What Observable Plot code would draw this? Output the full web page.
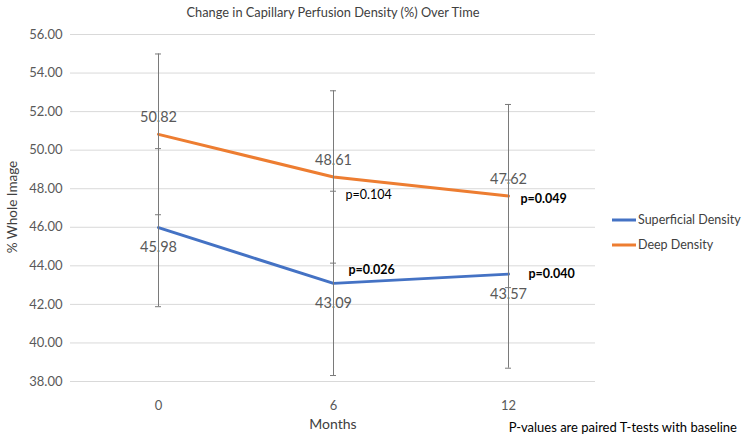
<!DOCTYPE html>
<html><head><meta charset="utf-8">
<script src="https://cdn.jsdelivr.net/npm/d3@7"></script>
<script src="https://cdn.jsdelivr.net/npm/@observablehq/plot@0.6"></script>
<style>body{margin:0;background:#fff}</style>
</head><body><div id="chart"></div>
<script>
const months = [0, 6, 12];
const seriesNames = ["Superficial Density", "Deep Density"];
const superficial = [45.98, 43.09, 43.57];
const superficialErr = [4.10, 4.78, 4.88];
const deep = [50.82, 48.61, 47.62];
const deepErr = [4.17, 4.47, 4.75];
const superficialP = ["", "p=0.026", "p=0.040"];
const deepP = ["", "p=0.104", "p=0.049"];
const superficialPBold = [false, true, true];
const deepPBold = [false, false, true];
const yTicks = [38, 40, 42, 44, 46, 48, 50, 52, 54, 56];
const titleText = "Change in Capillary Perfusion Density (%) Over Time";
const yLabel = "% Whole Image";
const xLabel = "Months";
const captionText = "P-values are paired T-tests with baseline";
const colors = ["#4472C4", "#ED7D31"];

const rows = [];
months.forEach((m, i) => {
  rows.push({series: seriesNames[0], month: m, v: superficial[i], e: superficialErr[i], p: superficialP[i], bold: superficialPBold[i], idx: i});
  rows.push({series: seriesNames[1], month: m, v: deep[i], e: deepErr[i], p: deepP[i], bold: deepPBold[i], idx: i});
});
const sup = rows.filter(d => d.series === seriesNames[0]);
const dp = rows.filter(d => d.series === seriesNames[1]);

// p-label offsets (layout only)
const pOffsets = {
  [seriesNames[0]]: [null, {dx: 15, dy: -13}, {dx: 20, dy: 0}],
  [seriesNames[1]]: [null, {dx: 12, dy: 18}, {dx: 12, dy: 3}]
};
const pMarks = rows.filter(d => d.p).map(d => {
  const o = pOffsets[d.series][d.idx];
  return Plot.text([d], {x: "month", y: "v", text: "p", textAnchor: "start", dx: o.dx, dy: o.dy,
    fill: "#000", fontSize: 12.5, fontWeight: d.bold ? "bold" : "normal"});
});

const svg = Plot.plot({
  width: 750, height: 439,
  marginLeft: 70, marginRight: 155, marginTop: 34, marginBottom: 58,
  style: {fontFamily: "Lato, sans-serif", fontSize: "13px", background: "#fff"},
  x: {type: "point", domain: months, padding: 0.5, label: null},
  y: {domain: [38, 56], label: null},
  color: {domain: seriesNames, range: colors},
  marks: [
    Plot.gridY(yTicks, {stroke: "#d9d9d9", strokeOpacity: 1}),
    Plot.axisY(yTicks, {tickSize: 0, tickPadding: 8, tickFormat: d => d.toFixed(2), fill: "#595959", fontSize: 13, label: null}),
    Plot.axisX(months, {tickSize: 0, tickPadding: 19, fill: "#595959", fontSize: 13, label: null}),
    Plot.line(rows, {x: "month", y: "v", z: "series", stroke: "series", strokeWidth: 3}),
    Plot.text(dp, {x: "month", y: "v", text: d => d.v.toFixed(2), dy: -17, fill: "#595959", fontSize: 14.5}),
    Plot.text(sup, {x: "month", y: "v", text: d => d.v.toFixed(2), dy: 20, fill: "#595959", fontSize: 14.5}),
    ...pMarks,
    Plot.ruleX(rows, {x: "month", y1: d => d.v - d.e, y2: d => d.v + d.e, stroke: "#7a7a7a", strokeWidth: 1}),
    Plot.ruleY(rows, {x1: "month", x2: "month", y: d => d.v - d.e, insetLeft: -3, insetRight: -3, stroke: "#7a7a7a", strokeWidth: 1}),
    Plot.ruleY(rows, {x1: "month", x2: "month", y: d => d.v + d.e, insetLeft: -3, insetRight: -3, stroke: "#7a7a7a", strokeWidth: 1})
  ]
});

const s = d3.select(svg);
s.append("text").attr("x", 333).attr("y", 17).attr("text-anchor", "middle")
  .attr("fill", "#404040").style("font-size", "12.8px").text(titleText);
s.append("text").attr("transform", "translate(17,207) rotate(-90)").attr("text-anchor", "middle")
  .attr("fill", "#404040").style("font-size", "13.5px").text(yLabel);
s.append("text").attr("x", 333).attr("y", 429).attr("text-anchor", "middle")
  .attr("fill", "#404040").style("font-size", "14px").text(xLabel);
s.append("text").attr("x", 737).attr("y", 432).attr("text-anchor", "end")
  .attr("fill", "#000").style("font-size", "13px").text(captionText);
const lg = s.append("g");
seriesNames.forEach((n, i) => {
  const y = 220 + i * 25;
  lg.append("line").attr("x1", 612).attr("x2", 636).attr("y1", y).attr("y2", y)
    .attr("stroke", colors[i]).attr("stroke-width", 3);
  lg.append("text").attr("x", 638).attr("y", y).attr("dy", "0.35em").attr("text-anchor", "start")
    .attr("fill", "#404040").style("font-size", "12.5px").text(n);
});
document.getElementById("chart").append(svg);
</script></body></html>
